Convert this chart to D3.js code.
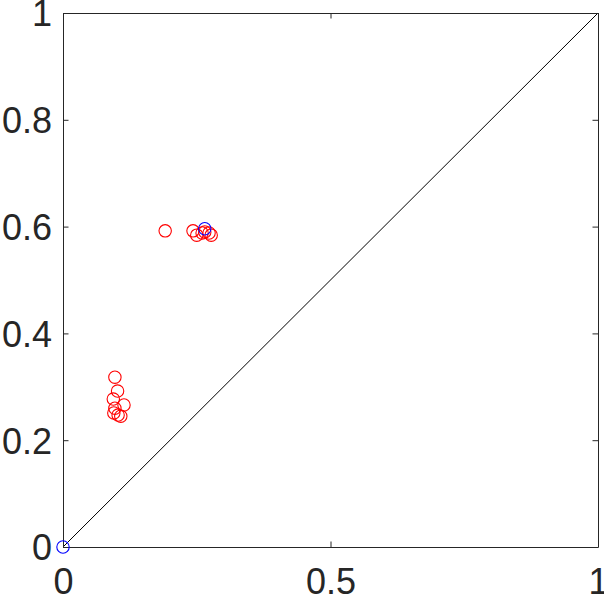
<!DOCTYPE html>
<html><head><meta charset="utf-8">
<script src="https://cdn.jsdelivr.net/npm/d3@7"></script>
<style>body{margin:0;background:#fff}</style>
</head><body>
<script>
const xTicks = [0, 0.5, 1];
const xTickLabels = ["0", "0.5", "1"];
const yTicks = [0, 0.2, 0.4, 0.6, 0.8, 1];
const yTickLabels = ["0", "0.2", "0.4", "0.6", "0.8", "1"];
const redX = [0.191, 0.243, 0.250, 0.260, 0.265, 0.273, 0.277, 0.097, 0.102, 0.094, 0.114, 0.097, 0.095, 0.103, 0.108];
const redY = [0.592, 0.592, 0.584, 0.588, 0.590, 0.588, 0.584, 0.318, 0.292, 0.277, 0.266, 0.260, 0.251, 0.247, 0.245];
const blueX = [0, 0.265];
const blueY = [0, 0.596];
const diagX = [0, 1];
const diagY = [0, 1];

const W = 604, H = 598;
const L = 63, R = 598, T = 13, B = 547;
const svg = d3.select("body").append("svg").attr("width", W).attr("height", H);
const x = d3.scaleLinear().domain([0, 1]).range([L, R]);
const y = d3.scaleLinear().domain([0, 1]).range([B, T]);
const axCol = "#262626";
const font = "Arial, 'Liberation Sans', Helvetica, sans-serif";

// diagonal
svg.append("path")
  .attr("d", d3.line().x((d, i) => x(diagX[i])).y((d, i) => y(diagY[i]))(diagX))
  .attr("fill", "none").attr("stroke", "#000").attr("stroke-width", 1);

// axes
const tl = 5.5;
const xb = d3.axisBottom(x).tickValues(xTicks).tickFormat((d, i) => xTickLabels[i]).tickSizeInner(-tl).tickSizeOuter(0).tickPadding(21);
const xt = d3.axisTop(x).tickValues(xTicks).tickFormat("").tickSizeInner(-tl).tickSizeOuter(0);
const yl = d3.axisLeft(y).tickValues(yTicks).tickFormat((d, i) => yTickLabels[i]).tickSizeInner(-tl).tickSizeOuter(0).tickPadding(11);
const yr = d3.axisRight(y).tickValues(yTicks).tickFormat("").tickSizeInner(-tl).tickSizeOuter(0);

function style(g) {
  g.selectAll("path.domain").attr("stroke", axCol).attr("stroke-width", 1);
  g.selectAll(".tick line").attr("stroke", axCol).attr("stroke-width", 1);
  g.selectAll("text").attr("fill", axCol).style("font-family", font).style("font-size", "36px");
}
style(svg.append("g").attr("transform", `translate(0,${B})`).call(xb));
style(svg.append("g").attr("transform", `translate(0,${T})`).call(xt));
style(svg.append("g").attr("transform", `translate(${L},0)`).call(yl));
style(svg.append("g").attr("transform", `translate(${R},0)`).call(yr));
svg.selectAll("g.tick text").each(function() {
  const t = d3.select(this);
  if (t.attr("y") && +t.attr("y") > 0) { t.attr("dy", "0.71em"); } else { t.attr("dy", "0.36em"); }
});

// points
svg.append("g").selectAll("circle").data(redX).join("circle")
  .attr("cx", (d, i) => x(redX[i])).attr("cy", (d, i) => y(redY[i])).attr("r", 6.2)
  .attr("fill", "none").attr("stroke", "#ff0000").attr("stroke-width", 1.1);
svg.append("g").selectAll("circle").data(blueX).join("circle")
  .attr("cx", (d, i) => x(blueX[i])).attr("cy", (d, i) => y(blueY[i])).attr("r", 6.2)
  .attr("fill", "none").attr("stroke", "#0000ff").attr("stroke-width", 1.1);
</script>
</body></html>
